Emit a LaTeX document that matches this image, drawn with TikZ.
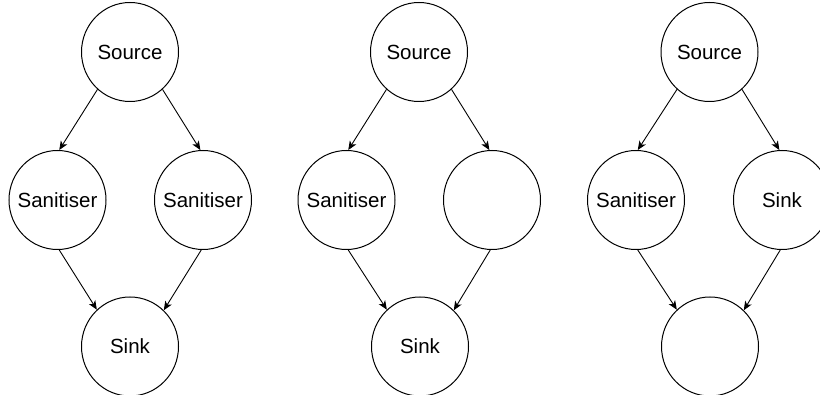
\documentclass[tikz,border=0pt]{standalone}
\usepackage{fontspec}
\setmainfont{Liberation Sans}
\usetikzlibrary{arrows.meta,shapes.geometric}
\newcommand{\vlabel}[1]{\makebox[0pt][c]{#1}}
\begin{document}
\begin{tikzpicture}[x=1pt,y=-1pt,
  vtx/.style={draw=black,line width=1pt,ellipse,minimum width=97pt,minimum height=99pt,inner sep=0pt,
    font=\fontsize{20.5}{24}\selectfont},
  flow/.style={line width=0.9pt,-{Stealth[length=9pt,width=7.5pt,inset=2.5pt]}}]
\useasboundingbox (0,0) rectangle (820,395);

% first graph: two sanitisers
\node[vtx] (s1) at (130,52) {\vlabel{Source}};
\node[vtx] (l1) at (57.5,200) {\vlabel{Sanitiser}};
\node[vtx] (r1) at (203,200) {\vlabel{Sanitiser}};
\node[vtx] (k1) at (130,346.5) {\vlabel{Sink}};
\draw[flow] (s1.229) -- (l1.88);
\draw[flow] (s1.311) -- (r1.93);
\draw[flow] (l1.272) -- (k1.132);
\draw[flow] (r1.268) -- (k1.47);

% second graph: one sanitiser, one empty vertex
\node[vtx] (s2) at (419,52) {\vlabel{Source}};
\node[vtx] (l2) at (346.5,200) {\vlabel{Sanitiser}};
\node[vtx] (r2) at (492,200) {};
\node[vtx] (k2) at (420,346.5) {\vlabel{Sink}};
\draw[flow] (s2.229) -- (l2.88);
\draw[flow] (s2.311) -- (r2.93);
\draw[flow] (l2.272) -- (k2.132);
\draw[flow] (r2.268) -- (k2.47);

% third graph: sink in the middle row
\node[vtx] (s3) at (709.5,52) {\vlabel{Source}};
\node[vtx] (l3) at (636,200) {\vlabel{Sanitiser}};
\node[vtx] (r3) at (782,200) {\vlabel{Sink}};
\node[vtx] (k3) at (710,346.5) {};
\draw[flow] (s3.229) -- (l3.88);
\draw[flow] (s3.311) -- (r3.93);
\draw[flow] (l3.272) -- (k3.132);
\draw[flow] (r3.268) -- (k3.47);
\end{tikzpicture}
\end{document}
